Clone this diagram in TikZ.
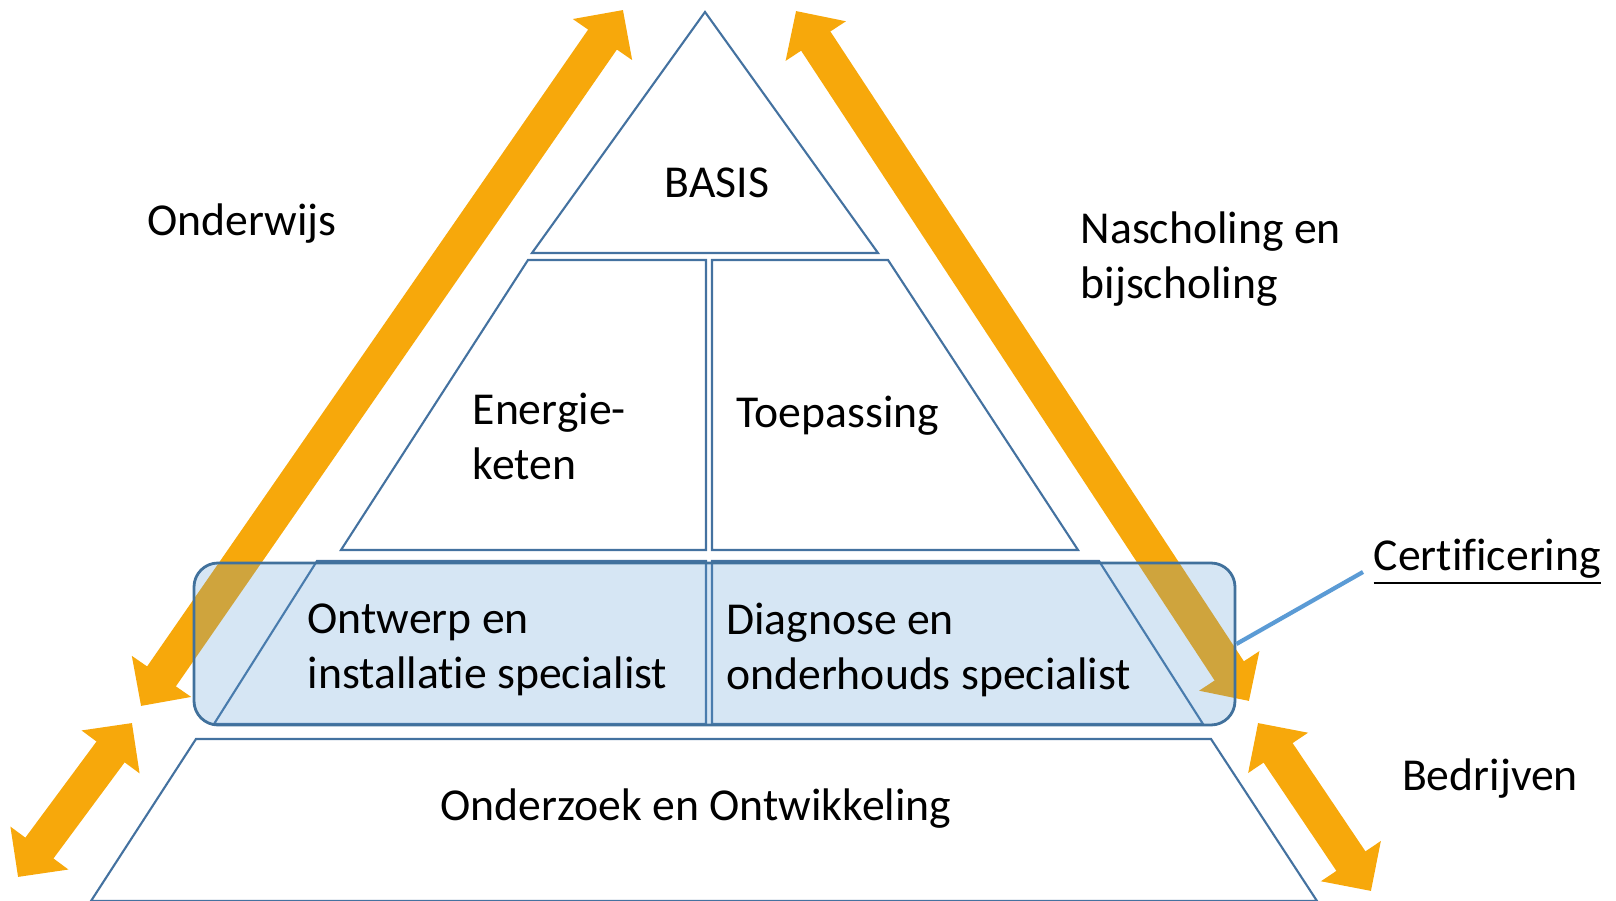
\documentclass[tikz,border=0pt]{standalone}
\usepackage{fontspec}
\setmainfont{Carlito}[Ligatures=NoCommon]
\usetikzlibrary{arrows.meta}

\definecolor{arroworange}{RGB}{247,168,11}
\definecolor{tierblue}{RGB}{68,114,160}
\definecolor{bandblue}{RGB}{91,155,213}
\definecolor{bandedge}{RGB}{65,113,156}

\tikzset{
  tier/.style={draw=tierblue,line width=0.6pt},
  flow/.style={draw=arroworange,line width=0.35cm,
    {Triangle[length=0.36cm,width=0.70cm]}-{Triangle[length=0.36cm,width=0.70cm]}},
  band/.style={draw=bandedge,line width=0.8pt,fill=bandblue,fill opacity=0.25,
    rounded corners=0.24cm},
  certline/.style={draw=bandblue,line width=1.2pt},
  lbl/.style={inner sep=0pt,font=\fontsize{13}{15.6}\selectfont,align=left},
}

\begin{document}
\begin{tikzpicture}
  \useasboundingbox (0,0) rectangle (16.16,9.01);

  % pyramid tiers
  \draw[tier] (7.05,8.89) -- (5.32,6.48) -- (8.78,6.48) -- cycle;
  \draw[tier] (5.28,6.41) -- (7.06,6.41) -- (7.06,3.51) -- (3.41,3.51) -- cycle;
  \draw[tier] (7.12,6.41) -- (8.88,6.41) -- (10.78,3.51) -- (7.12,3.51) -- cycle;
  \draw[tier] (3.17,3.40) -- (7.06,3.40) -- (7.06,1.77) -- (2.14,1.77) -- cycle;
  \draw[tier] (7.12,3.40) -- (10.99,3.40) -- (12.03,1.77) -- (7.12,1.77) -- cycle;
  \draw[tier] (1.96,1.62) -- (12.11,1.62) -- (13.17,0) -- (0.91,0) -- cycle;

  % arrows
  \coordinate (onderwijs-lo) at (1.41,1.95);
  \coordinate (onderwijs-hi) at (6.23,8.91);
  \coordinate (nascholing-hi) at (7.96,8.90);
  \coordinate (nascholing-lo) at (12.49,2.00);
  \coordinate (links-hi) at (1.32,1.78);
  \coordinate (links-lo) at (0.18,0.24);
  \coordinate (bedrijven-hi) at (12.58,1.78);
  \coordinate (bedrijven-lo) at (13.71,0.10);
  \draw[flow] (onderwijs-lo) -- (onderwijs-hi);
  \draw[flow] (nascholing-hi) -- (nascholing-lo);
  \draw[flow] (links-hi) -- (links-lo);
  \draw[flow] (bedrijven-hi) -- (bedrijven-lo);

  % certificering band
  \node[band,minimum width=10.41cm,minimum height=1.62cm] (band) at (7.145,2.57) {};

  % labels
  \node[lbl] (basis) at (7.17,7.185) {BASIS};
  \node[lbl,anchor=west] (energie) at (4.72,4.645) {Energie-\\keten};
  \node[lbl] (toepassing) at (8.38,4.85) {Toepassing};
  \node[lbl,anchor=west] (ontwerp) at (3.07,2.51) {Ontwerp en\\installatie specialist};
  \node[lbl,anchor=west] (diagnose) at (7.255,2.51) {Diagnose en\\onderhouds specialist};
  \node[lbl] (onderzoek) at (6.96,0.925) {Onderzoek en Ontwikkeling};
  \node[lbl,anchor=west] (onderwijs) at (1.47,6.77) {Onderwijs};
  \node[lbl,anchor=west] (nascholing) at (10.80,6.42) {Nascholing en\\bijscholing};
  \node[lbl] (bedrijven) at (14.90,1.22) {Bedrijven};
  \node[lbl,anchor=west] (certlbl) at (13.73,3.39) {\underline{Certificering}};

  \draw[certline] (band.east) -- ([xshift=-1mm,yshift=-1mm]certlbl.west);
\end{tikzpicture}
\end{document}
